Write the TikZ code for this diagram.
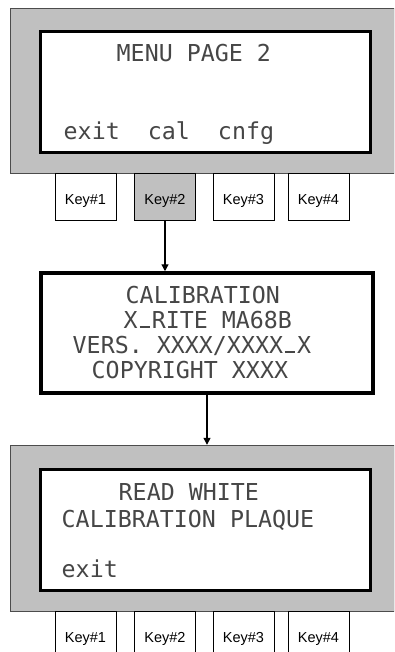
\documentclass[tikz,border=0pt]{standalone}
\usepackage{fontspec}
\setmainfont{Liberation Sans}
\newfontfamily\lcdfont{DejaVu Sans Mono}
\usetikzlibrary{arrows.meta}
\definecolor{panelgray}{RGB}{192,192,192}
\definecolor{lcdtext}{RGB}{70,70,70}
\newcommand\lcdbar{\makebox[0.602em]{\rule{0.45em}{0.07em}}}
\tikzset{
  panel/.style={draw=black!70,fill=panelgray,thin,minimum width=384pt,minimum height=165pt,inner sep=0pt},
  lcd/.style={draw,fill=white,line width=3pt,minimum width=330pt,minimum height=121pt,inner sep=0pt},
  key/.style={draw,thin,minimum width=61pt,minimum height=47pt,inner sep=0pt,text height=16.4pt,text depth=0pt,font=\fontsize{14.5}{16}\selectfont},
  lcdline/.style={anchor=base west,inner sep=0pt,text height=17.5pt,text depth=4pt,text=lcdtext,font=\lcdfont\fontsize{23.3}{25}\selectfont},
  flow/.style={-{Triangle[length=7pt,width=7pt]},line width=1.3pt}
}
\begin{document}
\begin{tikzpicture}[x=1pt,y=-1pt]
      \clip (0,0) rectangle (394,652);
      % menu page 2
      \node[panel] (menu) at (202,90.5) {};
      \node[lcd] (menulcd) at (205,92.5) {};
      \node[lcdline] (title) at (116.5,62) {MENU PAGE 2};
      \node[lcdline] (soft) at (63.5,140) {exit\ \ cal\ \ cnfg};
      \foreach \i/\x/\f in {1/85.5/white,2/165/panelgray,3/243.5/white,4/318.5/white}
        \node[key,fill=\f] (k\i) at (\x,196.5) {Key\#\i};
      % calibration screen
      \node[lcd,line width=3.5pt,minimum width=332pt,minimum height=120pt] (calib) at (207,333) {};
      \node[lcdline] (c1) at (125.5,303) {CALIBRATION};
      \node[lcdline] (c2) at (123.5,328) {X\lcdbar RITE MA68B};
      \node[lcdline] (c3) at (72.5,353) {VERS. XXXX/XXXX\lcdbar X};
      \node[lcdline] (c4) at (91.5,378) {COPYRIGHT XXXX};
      % read white
      \node[panel,minimum height=166pt] (read) at (202,528) {};
      \node[lcd] (readlcd) at (205,529.5) {};
      \node[lcdline] (r1) at (118.5,500) {READ WHITE};
      \node[lcdline] (r2) at (61.5,527) {CALIBRATION PLAQUE};
      \node[lcdline] (r3) at (61.5,577) {exit};
      \foreach \i/\x in {1/85.5,2/165,3/243.5,4/318.5}
        \node[key,fill=white] (b\i) at (\x,634.5) {Key\#\i};
      % arrows
      \draw[flow] (k2.south) -- (k2.south |- calib.north);
      \draw[flow] (calib.south) -- (calib.south |- read.north);
\end{tikzpicture}
\end{document}
